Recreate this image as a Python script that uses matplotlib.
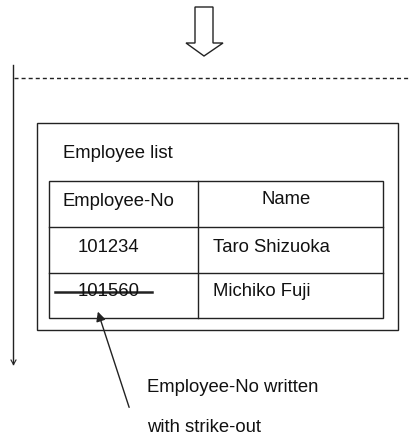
import matplotlib.pyplot as plt
from matplotlib.patches import Polygon, Rectangle

plt.rcParams['font.family'] = ['Liberation Sans', 'DejaVu Sans']

# Table content
title = 'Employee list'
headers = ['Employee-No', 'Name']
employee_nos = ['101234', '101560']
names = ['Taro Shizuoka', 'Michiko Fuji']
struck = [False, True]
note_lines = ['Employee-No written', 'with strike-out']

ink = '#222222'
fs = 13.3

fig = plt.figure(figsize=(4.10, 4.41), dpi=100)
ax = fig.add_axes([0, 0, 1, 1])
ax.set_xlim(0, 410)
ax.set_ylim(441, 0)
ax.axis('off')

# Block arrow at the top
arrow_pts = [(195, 7), (213, 7), (213, 43), (223, 43), (204, 56), (186, 43), (195, 43)]
ax.add_patch(Polygon(arrow_pts, closed=True, fc='white', ec=ink, lw=1.0))

# Dashed separator and left vertical line
ax.plot([14, 410], [78, 78], color=ink, lw=1.0, ls=(0, (2.9, 2.2)))
ax.plot([13.5, 13.5], [65, 364], color=ink, lw=1.0)
ax.plot([11, 13.5, 16], [360, 364.5, 360], color=ink, lw=0.8)

# Outer frame
ax.add_patch(Rectangle((37, 123), 361, 207, fill=False, ec=ink, lw=1.0))
ax.text(63, 153, title, fontsize=fs, ha='left', va='center', color='#111111')

# Table grid
left, right, top = 49, 383, 181
col_x = 198
row_y = [181, 227, 273, 318]
ax.add_patch(Rectangle((left, top), right - left, row_y[-1] - top, fill=False, ec=ink, lw=1.0))
ax.plot([col_x, col_x], [top, row_y[-1]], color=ink, lw=1.0)
for y in row_y[1:-1]:
    ax.plot([left, right], [y, y], color=ink, lw=1.0)

# Header
ax.text(63, 202, headers[0], fontsize=fs, ha='left', va='center', color='#111111')
ax.text(286, 200, headers[1], fontsize=fs, ha='center', va='center', color='#111111')

# Rows
for i, (no, nm, s) in enumerate(zip(employee_nos, names, struck)):
    y = 247 + i * 45
    ax.text(78, y, no, fontsize=fs, ha='left', va='center', color='#111111')
    ax.text(213, y, nm, fontsize=fs, ha='left', va='center', color='#111111')
    if s:
        ax.plot([55, 152], [y, y], color=ink, lw=1.8)

# Callout arrow and note
ax.annotate('', xy=(97, 309), xytext=(130, 410),
            arrowprops=dict(arrowstyle='-|>', color=ink, lw=1.0, mutation_scale=14))
for j, line in enumerate(note_lines):
    ax.text(147, 388 + j * 40, line, fontsize=fs, ha='left', va='center', color='#111111')

fig.savefig('out.png', dpi=100)
